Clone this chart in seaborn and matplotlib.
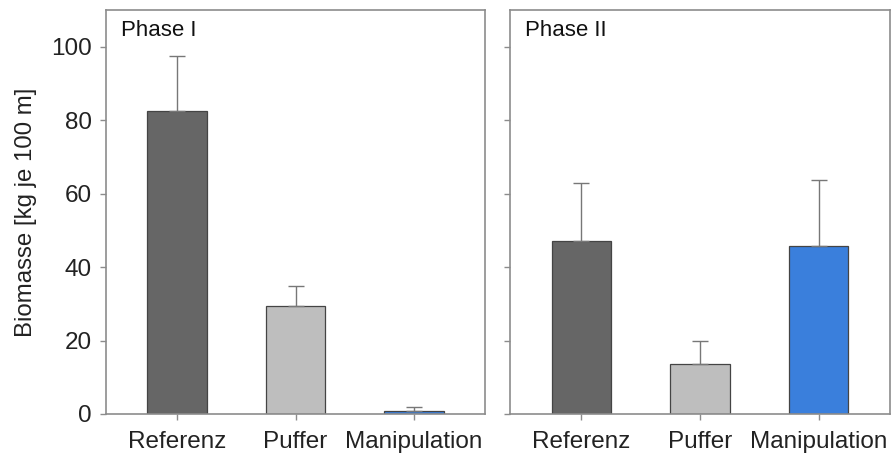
import matplotlib
matplotlib.use("Agg")
import matplotlib.pyplot as plt
import seaborn as sns
import pandas as pd
import numpy as np

categories = ["Referenz", "Puffer", "Manipulation"]
phase1_values = [82.5, 29.5, 0.8]
phase1_err = [15.0, 5.3, 1.0]
phase2_values = [47.0, 13.5, 45.8]
phase2_err = [15.8, 6.5, 17.9]
panel_titles = ["Phase I", "Phase II"]
colors = ["#666666", "#bebebe", "#3a7fdc"]

sns.set_style("white")
plt.rcParams["font.family"] = ["Liberation Sans", "DejaVu Sans"]
plt.rcParams["xtick.bottom"] = True
plt.rcParams["ytick.left"] = True

fig = plt.figure(figsize=(8.91, 4.54), dpi=100)
ax1 = fig.add_axes([106/891, 1-414/454, (485-106)/891, (414-10)/454])
ax2 = fig.add_axes([510/891, 1-414/454, (891-510-1)/891, (414-10)/454])

spine_col = "#8c8c8c"
for ax, vals, errs, title in [(ax1, phase1_values, phase1_err, panel_titles[0]),
                              (ax2, phase2_values, phase2_err, panel_titles[1])]:
    df = pd.DataFrame({"cat": categories, "val": vals})
    sns.barplot(data=df, x="cat", y="val", hue="cat", palette=colors, legend=False,
                width=0.5, edgecolor="#444444", linewidth=0.9, ax=ax, errorbar=None,
                saturation=1)
    ax.errorbar(np.arange(len(categories)), vals, yerr=[np.zeros(len(errs)), errs],
                fmt="none", ecolor="#777777", elinewidth=1.0, capsize=6, capthick=1.0, zorder=1)
    ax.set_xlim(-0.6, 2.6)
    ax.set_ylim(0, 110)
    ax.set_yticks([0, 20, 40, 60, 80, 100])
    ax.set_xlabel("")
    ax.set_ylabel("")
    for s in ax.spines.values():
        s.set_visible(True)
        s.set_color(spine_col)
        s.set_linewidth(1.2)
    ax.tick_params(axis="both", which="both", direction="out", length=4, width=1,
                   color=spine_col, labelsize=17.5, labelcolor="#222222")
    ax.tick_params(axis="x", pad=8, bottom=True)
    ax.tick_params(axis="y", pad=6, left=True)
    ax.text(0.04, 0.975, title, transform=ax.transAxes, ha="left", va="top",
            fontsize=16, color="#111111")

ax2.set_yticklabels([])
ax1.set_ylabel("Biomasse [kg je 100 m]", fontsize=17.3, color="#222222", labelpad=10)

fig.savefig("out.png", dpi=100)
